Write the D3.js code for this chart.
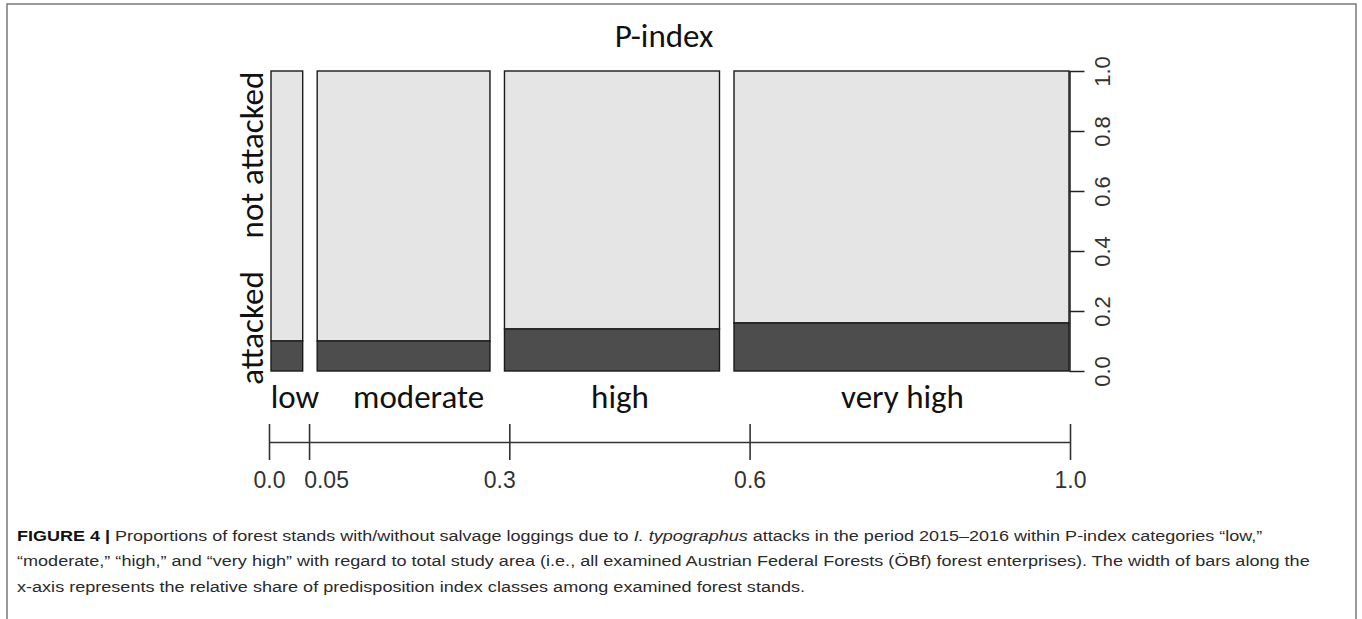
<!DOCTYPE html>
<html>
<head>
<meta charset="utf-8">
<script src="https://cdn.jsdelivr.net/npm/d3@7"></script>
<style>
  html, body { margin: 0; padding: 0; background: #fff; }
  svg { display: block; }
</style>
</head>
<body>
<script>
// P-index classes of the examined forest stands
const categories = ["low", "moderate", "high", "very high"];
// relative share of stands in each class (column widths)
const standShare = [0.042, 0.229, 0.285, 0.444];
// proportion of stands with salvage loggings (attacked) within each class
const attackedShare = [0.10, 0.10, 0.14, 0.16];
const statusLabels = ["attacked", "not attacked"];
// class boundaries of the predisposition index
const pIndexBreaks = [0, 0.05, 0.3, 0.6, 1.0];
const pIndexBreakLabels = ["0.0", "0.05", "0.3", "0.6", "1.0"];
// proportion axis
const propTicks = [0, 0.2, 0.4, 0.6, 0.8, 1.0];
const propTickLabels = ["0.0", "0.2", "0.4", "0.6", "0.8", "1.0"];

const W = 1362, H = 619;
const plot = { left: 271, right: 1069, top: 71, bottom: 371 };
const gap = 14.5;

const svg = d3.select("body").append("svg").attr("width", W).attr("height", H);

// figure frame
svg.append("rect")
  .attr("x", 7).attr("y", 4).attr("width", 1349).attr("height", 700)
  .attr("fill", "none").attr("stroke", "#7a7a7a").attr("stroke-width", 1.5);

const calibri = "Carlito, Lato, 'Open Sans', sans-serif";
const arial = "'Liberation Sans', Arial, sans-serif";

// scales
const w = d3.scaleLinear().domain([0, 1])
  .range([0, plot.right - plot.left - gap * (categories.length - 1)]);
const y = d3.scaleLinear().domain([0, 1]).range([plot.bottom, plot.top]);

const starts = [0, ...d3.cumsum(standShare)].slice(0, categories.length);
const cols = categories.map((c, i) => ({
  name: c,
  x0: plot.left + w(starts[i]) + i * gap,
  width: w(standShare[i]),
  attacked: attackedShare[i]
}));

const mosaic = svg.append("g");
// not attacked (upper) cells
mosaic.selectAll("rect.na").data(cols).join("rect").attr("class", "na")
  .attr("x", d => d.x0).attr("width", d => d.width)
  .attr("y", y(1)).attr("height", d => y(d.attacked) - y(1))
  .attr("fill", "#e5e5e5").attr("stroke", "#1a1a1a").attr("stroke-width", 1.4);
// attacked (lower) cells
mosaic.selectAll("rect.at").data(cols).join("rect").attr("class", "at")
  .attr("x", d => d.x0).attr("width", d => d.width)
  .attr("y", d => y(d.attacked)).attr("height", d => y(0) - y(d.attacked))
  .attr("fill", "#4d4d4d").attr("stroke", "#1a1a1a").attr("stroke-width", 1.4);

// title
svg.append("text")
  .attr("x", (plot.left + plot.right) / 2 - 6).attr("y", 47)
  .attr("text-anchor", "middle")
  .attr("font-family", calibri).attr("font-size", 33).attr("fill", "#111")
  .text("P-index");

// category labels under the columns
const catNudge = [8, 15, 8, 1];
svg.selectAll("text.cat").data(cols).join("text").attr("class", "cat")
  .attr("x", (d, i) => d.x0 + d.width / 2 + catNudge[i]).attr("y", 408)
  .attr("text-anchor", "middle")
  .attr("font-family", calibri).attr("font-size", 33).attr("fill", "#111")
  .text(d => d.name);

// row labels on the left
const rowCenters = [328, 155];
svg.selectAll("text.row").data(statusLabels).join("text").attr("class", "row")
  .attr("transform", (d, i) => `translate(263,${rowCenters[i]}) rotate(-90)`)
  .attr("text-anchor", "middle")
  .attr("font-family", calibri).attr("font-size", 33).attr("fill", "#111")
  .text(d => d);

// proportion axis on the right
const yAxis = svg.append("g")
  .attr("transform", `translate(${plot.right + 0.5},0)`)
  .call(d3.axisRight(y).tickValues(propTicks).tickSize(15).tickSizeOuter(0)
    .tickFormat((d, i) => propTickLabels[i]));
yAxis.select(".domain").attr("stroke", "#222").attr("stroke-width", 1.5);
yAxis.selectAll(".tick line").attr("stroke", "#222").attr("stroke-width", 1.5);
yAxis.selectAll(".tick text")
  .attr("x", null).attr("dy", null)
  .attr("text-anchor", "middle")
  .attr("transform", "translate(40,0) rotate(-90)")
  .attr("font-family", arial).attr("font-size", 22).attr("fill", "#333");

// P-index scale below the mosaic
const x = d3.scaleLinear().domain([0, 1]).range([269, 1070]);
const labelNudge = [0, 17, -10, 0, 0];
const xAxis = svg.append("g")
  .attr("transform", "translate(0,442)")
  .call(d3.axisBottom(x).tickValues(pIndexBreaks).tickSizeOuter(0)
    .tickFormat((d, i) => pIndexBreakLabels[i]));
xAxis.select(".domain").attr("stroke", "#333").attr("stroke-width", 1.6);
xAxis.selectAll(".tick line").attr("y1", -18).attr("y2", 18)
  .attr("stroke", "#333").attr("stroke-width", 1.6);
xAxis.selectAll(".tick text")
  .attr("y", 46).attr("dy", null)
  .attr("dx", (d, i) => labelNudge[i])
  .attr("font-family", arial).attr("font-size", 23).attr("fill", "#333");

// caption (condensed sans, each line set to its measure)
const cap = svg.append("g")
  .attr("font-family", arial)
  .attr("font-size", 15.5).attr("fill", "#2a2a2a");
const l1 = cap.append("text").attr("x", 17).attr("y", 541);
l1.append("tspan").attr("font-weight", "bold").attr("fill", "#111").text("FIGURE 4 |");
l1.append("tspan").text(" Proportions of forest stands with/without salvage loggings due to ");
l1.append("tspan").attr("font-style", "italic").text("I. typographus");
l1.append("tspan").text(" attacks in the period 2015\u20132016 within P-index categories \u201Clow,\u201D");
const l2 = cap.append("text").attr("x", 17).attr("y", 566.5)
  .text("\u201Cmoderate,\u201D \u201Chigh,\u201D and \u201Cvery high\u201D with regard to total study area (i.e., all examined Austrian Federal Forests (\u00D6Bf) forest enterprises). The width of bars along the");
const l3 = cap.append("text").attr("x", 17).attr("y", 592)
  .text("x-axis represents the relative share of predisposition index classes among examined forest stands.");

function condense(sel, sx) {
  sel.attr("transform", `translate(17,0) scale(${sx},1) translate(-17,0)`);
}
const s1 = 1246 / l1.node().getComputedTextLength();
const s2 = 1293 / l2.node().getComputedTextLength();
condense(l1, s1);
condense(l2, s2);
condense(l3, s2);
</script>
</body>
</html>
